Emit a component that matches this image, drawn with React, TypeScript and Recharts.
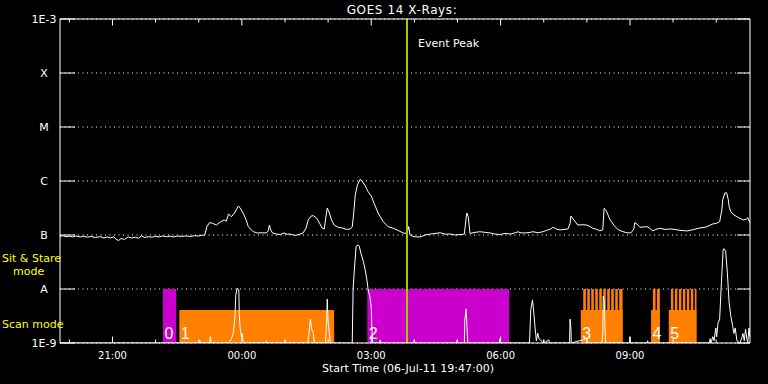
import { CartesianGrid, Line, LineChart, ReferenceArea, ReferenceLine, XAxis, YAxis } from 'recharts';

// hours since 00:00 on 06-Jul-11; the plot covers 16 hours from 19:47
const START_HOUR = 19 + 47 / 60;
const END_HOUR = START_HOUR + 16;
const EVENT_PEAK_HOUR = 27.83;

const HOUR_TICKS = [20, 21, 22, 23, 24, 25, 26, 27, 28, 29, 30, 31, 32, 33, 34, 35];
const LABELLED_HOURS = [21, 24, 27, 30, 33];
const LEVEL_TICKS = [1e-9, 1e-8, 1e-7, 1e-6, 1e-5, 1e-4, 1e-3];
const LEVEL_LABELS = ['1E-9', 'A', 'B', 'C', 'M', 'X', '1E-3'];

// [hour, flux W/m^2] long channel (1-8 A)
const LONG_CHANNEL: [number, number][] = [
  [19.79, 9.4e-8], [19.85, 9.7e-8], [19.92, 9.3e-8], [20.0, 9.5e-8], [20.08, 9.2e-8], [20.15, 9.6e-8],
  [20.26, 9.2e-8], [20.33, 9.5e-8], [20.42, 9.1e-8], [20.5, 9.4e-8], [20.6, 9.0e-8], [20.72, 9.3e-8],
  [20.8, 8.8e-8], [20.88, 9.2e-8], [20.95, 8.9e-8], [21.03, 9.2e-8], [21.08, 8.4e-8], [21.14, 7.9e-8],
  [21.2, 8.6e-8], [21.28, 8.3e-8], [21.37, 9.2e-8], [21.45, 8.8e-8], [21.53, 9.1e-8], [21.6, 8.7e-8],
  [21.67, 9.6e-8], [21.75, 9.0e-8], [21.84, 9.3e-8], [21.92, 9.1e-8], [22.0, 9.5e-8], [22.08, 9.2e-8],
  [22.16, 9.6e-8], [22.25, 9.3e-8], [22.34, 9.5e-8], [22.42, 9.2e-8], [22.5, 9.6e-8], [22.6, 9.4e-8],
  [22.7, 9.6e-8], [22.8, 9.4e-8], [22.9, 9.7e-8], [23.0, 9.6e-8], [23.08, 9.9e-8], [23.14, 1.0e-7],
  [23.19, 1.43e-7], [23.25, 1.69e-7], [23.32, 1.65e-7], [23.41, 1.53e-7], [23.5, 1.74e-7], [23.59, 1.9e-7],
  [23.64, 1.8e-7], [23.69, 2.45e-7], [23.76, 2.18e-7], [23.83, 2.55e-7], [23.92, 3.44e-7], [23.96, 3.16e-7],
  [24.03, 2.55e-7], [24.1, 1.9e-7], [24.15, 1.43e-7], [24.22, 1.24e-7], [24.27, 1.15e-7], [24.36, 1.09e-7],
  [24.48, 1.1e-7], [24.57, 1.09e-7], [24.61, 1.19e-7], [24.64, 1.53e-7], [24.66, 1.29e-7], [24.71, 1.09e-7],
  [24.8, 1.04e-7], [24.89, 1.02e-7], [24.98, 1.09e-7], [25.05, 1.03e-7], [25.12, 1.04e-7], [25.24, 9.8e-8],
  [25.35, 1.04e-7], [25.42, 1.09e-7], [25.49, 1.35e-7], [25.54, 1.9e-7], [25.61, 2.25e-7], [25.66, 2.28e-7],
  [25.73, 2.07e-7], [25.8, 1.67e-7], [25.86, 1.35e-7], [25.91, 1.29e-7], [25.94, 1.9e-7], [25.98, 3.16e-7],
  [26.03, 2.55e-7], [26.08, 1.9e-7], [26.14, 1.53e-7], [26.24, 1.38e-7], [26.33, 1.35e-7], [26.42, 1.27e-7],
  [26.51, 1.29e-7], [26.56, 1.41e-7], [26.59, 2.35e-7], [26.63, 5.5e-7], [26.68, 8.4e-7], [26.74, 1.07e-6],
  [26.79, 1.0e-6], [26.86, 8.1e-7], [26.93, 6.3e-7], [27.0, 5.3e-7], [27.07, 3.8e-7], [27.16, 2.55e-7],
  [27.28, 1.76e-7], [27.39, 1.43e-7], [27.51, 1.33e-7], [27.62, 1.22e-7], [27.74, 1.09e-7], [27.83, 1.07e-7],
  [27.87, 1.43e-7], [27.9, 1.0e-7], [27.99, 9.3e-8], [28.09, 9.2e-8], [28.16, 9.3e-8], [28.25, 1.0e-7],
  [28.37, 1.04e-7], [28.48, 1.07e-7], [28.6, 1.1e-7], [28.71, 1.04e-7], [28.83, 1.04e-7], [28.95, 1.0e-7],
  [29.06, 1.02e-7], [29.16, 1.04e-7], [29.2, 2.07e-7], [29.22, 2.55e-7], [29.25, 2.18e-7], [29.29, 1.07e-7],
  [29.41, 1.12e-7], [29.52, 1.15e-7], [29.64, 1.12e-7], [29.76, 1.09e-7], [29.87, 1.04e-7], [29.99, 1.02e-7],
  [30.1, 1.07e-7], [30.22, 1.04e-7], [30.34, 1.1e-7], [30.41, 1.15e-7], [30.45, 1.1e-7], [30.57, 1.09e-7],
  [30.69, 1.12e-7], [30.75, 1.15e-7], [30.87, 1.1e-7], [30.98, 1.15e-7], [31.07, 1.22e-7], [31.15, 1.28e-7],
  [31.22, 1.39e-7], [31.29, 1.29e-7], [31.38, 1.24e-7], [31.47, 1.27e-7], [31.56, 1.29e-7], [31.61, 1.6e-7],
  [31.63, 2.25e-7], [31.7, 1.9e-7], [31.79, 1.53e-7], [31.91, 1.55e-7], [32.0, 1.53e-7], [32.07, 1.44e-7],
  [32.14, 1.33e-7], [32.23, 1.27e-7], [32.3, 1.2e-7], [32.37, 1.24e-7], [32.4, 3.12e-7], [32.44, 2.9e-7],
  [32.46, 2.7e-7], [32.54, 1.9e-7], [32.61, 1.6e-7], [32.65, 1.43e-7], [32.74, 1.24e-7], [32.84, 1.15e-7],
  [32.93, 1.1e-7], [33.02, 1.09e-7], [33.09, 1.29e-7], [33.11, 1.69e-7], [33.16, 1.6e-7], [33.23, 1.39e-7],
  [33.32, 1.41e-7], [33.39, 1.43e-7], [33.46, 1.32e-7], [33.53, 1.19e-7], [33.6, 1.27e-7], [33.69, 1.33e-7],
  [33.81, 1.27e-7], [33.92, 1.29e-7], [34.04, 1.27e-7], [34.16, 1.22e-7], [34.32, 1.19e-7], [34.44, 1.24e-7],
  [34.62, 1.35e-7], [34.76, 1.4e-7], [34.92, 1.6e-7], [35.01, 1.65e-7], [35.08, 1.76e-7], [35.13, 2.9e-7],
  [35.15, 4.45e-7], [35.2, 6.0e-7], [35.24, 6.07e-7], [35.28, 4.5e-7], [35.3, 3.34e-7], [35.34, 2.7e-7],
  [35.41, 2.35e-7], [35.52, 2.1e-7], [35.62, 1.9e-7], [35.7, 1.95e-7], [35.73, 2.1e-7], [35.78, 1.69e-7],
];

// [hour, flux W/m^2] short channel (0.5-4 A), 1e-9 = floor of the plot
const SHORT_CHANNEL: [number, number][] = [
  [19.79, 1e-9], [23.0, 1e-9], [23.02, 1.14e-9], [23.04, 1e-9], [23.25, 1e-9], [23.27, 1.31e-9],
  [23.29, 1e-9], [23.7, 1e-9], [23.76, 1.2e-9], [23.8, 1.5e-9], [23.84, 3.1e-9], [23.86, 7.7e-9],
  [23.89, 1.04e-8], [23.91, 1.0e-8], [23.93, 9.6e-9], [23.94, 3.5e-9], [23.96, 1.9e-9], [23.99, 1.3e-9],
  [24.01, 1.5e-9], [24.03, 1e-9], [24.56, 1e-9], [24.57, 1.1e-9], [24.58, 1e-9], [25.0, 1e-9],
  [25.01, 1.14e-9], [25.02, 1e-9], [25.53, 1e-9], [25.56, 1.6e-9], [25.59, 2.78e-9], [25.62, 1.8e-9],
  [25.66, 1.5e-9], [25.68, 1e-9], [25.94, 1e-9], [25.97, 3e-9], [25.98, 6.5e-9], [26.0, 2.5e-9],
  [26.03, 1.5e-9], [26.05, 1e-9], [26.56, 1e-9], [26.58, 1.0e-8], [26.61, 2.35e-8], [26.65, 6.2e-8],
  [26.69, 6.5e-8], [26.72, 6.3e-8], [26.76, 4.64e-8], [26.82, 3.2e-8], [26.86, 2.25e-8], [26.9, 1.47e-8],
  [26.93, 9.6e-9], [26.97, 7.2e-9], [27.0, 4.7e-9], [27.01, 2.67e-9], [27.03, 1e-9], [27.2, 1e-9],
  [27.21, 1.14e-9], [27.22, 1e-9], [27.99, 1e-9], [28.0, 1.14e-9], [28.01, 1e-9], [28.98, 1e-9],
  [28.99, 1.14e-9], [29.0, 1e-9], [29.16, 1e-9], [29.17, 2.6e-9], [29.2, 4.3e-9], [29.22, 2.0e-9],
  [29.24, 1e-9], [29.97, 1e-9], [29.98, 1.2e-9], [30.0, 1e-9], [30.67, 1e-9], [30.7, 4.1e-9],
  [30.74, 6.3e-9], [30.76, 4.5e-9], [30.8, 1.9e-9], [30.83, 1.1e-9], [30.86, 1.53e-9], [30.89, 1.2e-9],
  [30.99, 1e-9], [31.0, 1.14e-9], [31.01, 1e-9], [31.12, 1.14e-9], [31.13, 1e-9], [31.6, 1e-9],
  [31.61, 2.77e-9], [31.63, 1.9e-9], [31.64, 1e-9], [32.0, 1.2e-9], [32.01, 1e-9], [32.35, 1e-9],
  [32.37, 1.5e-9], [32.38, 7.4e-9], [32.4, 6.3e-9], [32.42, 2e-9], [32.43, 1.1e-9], [32.44, 1e-9],
  [32.99, 1e-9], [33.0, 1.3e-9], [33.01, 1e-9], [33.4, 1e-9], [33.41, 1.1e-9], [33.42, 1e-9],
  [34.84, 1e-9], [34.86, 1.2e-9], [34.88, 1e-9], [34.92, 1.31e-9], [34.95, 1.1e-9], [34.99, 1.9e-9],
  [35.01, 1.3e-9], [35.04, 2.3e-9], [35.08, 2.8e-9], [35.12, 1.3e-8], [35.16, 5.3e-8], [35.18, 5.6e-8],
  [35.22, 5.0e-8], [35.26, 1.9e-8], [35.3, 5.5e-9], [35.34, 3.1e-9], [35.38, 2.1e-9], [35.41, 1.5e-9],
  [35.44, 1.9e-9], [35.48, 1.1e-9], [35.55, 1e-9], [35.6, 1.3e-9], [35.62, 1.5e-9], [35.65, 1.1e-9],
  [35.68, 1.8e-9], [35.71, 1.2e-9], [35.73, 1e-9], [35.76, 1.9e-9], [35.78, 1.3e-9],
];

// instrument mode blocks: [label, start hour, end hour]
const SIT_STARE_BLOCKS: [string, number, number][] = [
  ['0', 22.17, 22.48],
  ['2', 26.91, 30.2],
];
const SCAN_BLOCKS: [string, number, number][] = [
  ['1', 22.55, 26.14],
  ['3', 31.86, 32.83],
  ['4', 33.49, 33.69],
  ['5', 33.9, 34.54],
];
// short raster steps inside scan blocks 3-5: [start hour, end hour]
const SCAN_STRIPES: [number, number][] = [
  [31.916, 31.978], [32.009, 32.07], [32.102, 32.162], [32.194, 32.255], [32.287, 32.348],
  [32.38, 32.44], [32.472, 32.533], [32.565, 32.625], [32.658, 32.718], [32.75, 32.829],
  [33.531, 33.593], [33.624, 33.693],
  [33.949, 34.005], [34.041, 34.098], [34.134, 34.19], [34.226, 34.283], [34.319, 34.375],
  [34.412, 34.468], [34.504, 34.543],
];
const SIT_STARE_TOP = 1e-8;
const SCAN_TOP = 4.1e-9;
const FLOOR = 1e-9;

const longData = LONG_CHANNEL.map(([h, f]) => ({ h, f }));
const shortData = SHORT_CHANNEL.map(([h, f]) => ({ h, f }));

const FONT = 'DejaVu Sans';
const WHITE = '#ffffff';
const MAGENTA = '#cc00cc';
const ORANGE = '#ff8000';
const PEAK_GREEN = '#a0cc00';

function levelLabel(v: number) {
  const i = LEVEL_TICKS.findIndex((t) => Math.abs(Math.log10(t) - Math.log10(v)) < 0.01);
  return i >= 0 ? LEVEL_LABELS[i] : '';
}

function LeftTick({ x, y, payload }: any) {
  return (
    <g>
      <line x1={x} x2={x + 15} y1={y} y2={y} stroke={WHITE} />
      <text x={x - 16} y={y} dy="0.36em" textAnchor="middle" fill={WHITE} fontSize={11} fontFamily={FONT}>
        {levelLabel(payload.value)}
      </text>
    </g>
  );
}

function RightTick({ x, y }: any) {
  return <line x1={x - 13} x2={x} y1={y} y2={y} stroke={WHITE} />;
}

function BottomTick({ x, y, payload }: any) {
  const major = LABELLED_HOURS.includes(payload.value);
  const hh = String(payload.value % 24).padStart(2, '0');
  return (
    <g>
      <line x1={x} x2={x} y1={y} y2={y - (major ? 6.5 : 3.5)} stroke={WHITE} />
      {major && (
        <text x={x} y={y + 12} dy="0.36em" textAnchor="middle" fill={WHITE} fontSize={10} fontFamily={FONT}>
          {`${hh}:00`}
        </text>
      )}
    </g>
  );
}

function TopTick({ x, y, payload }: any) {
  const major = LABELLED_HOURS.includes(payload.value);
  return <line x1={x} x2={x} y1={y} y2={y + (major ? 6.5 : 3.5)} stroke={WHITE} />;
}

function EventLabel({ viewBox }: any) {
  return (
    <text x={viewBox.x + 11} y={viewBox.y + 28} fill={WHITE} fontSize={11} fontFamily={FONT}>
      Event Peak
    </text>
  );
}

function BlockLabel({ viewBox, text }: any) {
  return (
    <text
      x={viewBox.x + 1.5}
      y={viewBox.y + viewBox.height - 4}
      fill={WHITE}
      fontSize={16}
      fontFamily="Liberation Sans"
    >
      {text}
    </text>
  );
}

const overlayText = { position: 'absolute' as const, fontFamily: FONT, whiteSpace: 'nowrap' as const, lineHeight: 1 };

export default function App() {
  return (
    <div style={{ position: 'absolute', left: 0, top: 0, width: 768, height: 384, background: '#000' }}>
      <LineChart
        width={768}
        height={384}
        margin={{ top: 0, right: 0, bottom: 0, left: 0 }}
        style={{ fontFamily: FONT }}
      >
        <CartesianGrid
          xAxisId="b"
          yAxisId="l"
          vertical={false}
          stroke={WHITE}
          strokeDasharray="1 3.5"
        />
        <XAxis
          xAxisId="b"
          dataKey="h"
          type="number"
          domain={[START_HOUR, END_HOUR]}
          allowDataOverflow
          ticks={HOUR_TICKS}
          interval={0}
          height={41}
          tickSize={0}
          tickMargin={0}
          tick={(p: any) => <BottomTick {...p} />}
          axisLine={{ stroke: WHITE }}
        />
        <XAxis
          xAxisId="t"
          orientation="top"
          dataKey="h"
          type="number"
          domain={[START_HOUR, END_HOUR]}
          allowDataOverflow
          ticks={HOUR_TICKS}
          interval={0}
          height={19}
          tickSize={0}
          tickMargin={0}
          tick={(p: any) => <TopTick {...p} />}
          axisLine={{ stroke: WHITE }}
        />
        <YAxis
          yAxisId="l"
          scale="log"
          domain={[FLOOR, 1e-3]}
          allowDataOverflow
          ticks={LEVEL_TICKS}
          interval={0}
          width={60}
          tickSize={0}
          tickMargin={0}
          tick={(p: any) => <LeftTick {...p} />}
          axisLine={{ stroke: WHITE }}
        />
        <YAxis
          yAxisId="r"
          orientation="right"
          scale="log"
          domain={[FLOOR, 1e-3]}
          allowDataOverflow
          ticks={LEVEL_TICKS}
          interval={0}
          width={18}
          tickSize={0}
          tickMargin={0}
          tick={(p: any) => <RightTick {...p} />}
          axisLine={{ stroke: WHITE }}
        />
        {SIT_STARE_BLOCKS.map(([label, x1, x2]) => (
          <ReferenceArea
            key={`ss-${label}`}
            xAxisId="b"
            yAxisId="l"
            x1={x1}
            x2={x2}
            y1={FLOOR}
            y2={SIT_STARE_TOP}
            fill={MAGENTA}
            fillOpacity={1}
            stroke="none"
            label={<BlockLabel text={label} />}
          />
        ))}
        {SCAN_STRIPES.map(([x1, x2]) => (
          <ReferenceArea
            key={`st-${x1}`}
            xAxisId="b"
            yAxisId="l"
            x1={x1}
            x2={x2}
            y1={FLOOR}
            y2={SIT_STARE_TOP}
            fill={ORANGE}
            fillOpacity={1}
            stroke="none"
          />
        ))}
        {SCAN_BLOCKS.map(([label, x1, x2]) => (
          <ReferenceArea
            key={`sc-${label}`}
            xAxisId="b"
            yAxisId="l"
            x1={x1}
            x2={x2}
            y1={FLOOR}
            y2={SCAN_TOP}
            fill={ORANGE}
            fillOpacity={1}
            stroke="none"
            label={<BlockLabel text={label} />}
          />
        ))}
        <Line
          xAxisId="b"
          yAxisId="l"
          data={shortData}
          dataKey="f"
          type="linear"
          stroke={WHITE}
          strokeWidth={1}
          dot={false}
          isAnimationActive={false}
        />
        <Line
          xAxisId="b"
          yAxisId="l"
          data={longData}
          dataKey="f"
          type="linear"
          stroke={WHITE}
          strokeWidth={1}
          dot={false}
          isAnimationActive={false}
        />
        <ReferenceLine
          xAxisId="b"
          yAxisId="l"
          x={EVENT_PEAK_HOUR}
          stroke={PEAK_GREEN}
          strokeWidth={2}
          label={<EventLabel />}
        />
      </LineChart>
      <div style={{ ...overlayText, left: 302, width: 200, top: 4, textAlign: 'center', color: WHITE, fontSize: 12, letterSpacing: 0.6 }}>
        GOES 14 X-Rays:
      </div>
      <div style={{ ...overlayText, left: 2, top: 253, color: '#ffff00', fontSize: 11 }}>Sit &amp; Stare</div>
      <div style={{ ...overlayText, left: 13, top: 266, color: '#ffff00', fontSize: 11 }}>mode</div>
      <div style={{ ...overlayText, left: 2, top: 319, color: '#ffff00', fontSize: 11 }}>Scan mode</div>
      <div style={{ ...overlayText, left: 258, width: 300, top: 363, textAlign: 'center', color: WHITE, fontSize: 11 }}>
        Start Time (06-Jul-11 19:47:00)
      </div>
    </div>
  );
}
